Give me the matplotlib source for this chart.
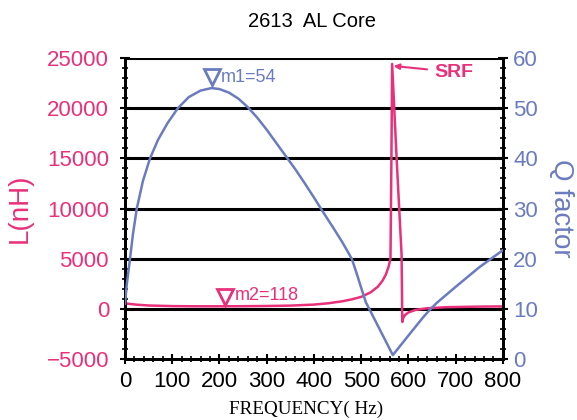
import matplotlib
matplotlib.use("Agg")
import matplotlib.pyplot as plt
from matplotlib.ticker import MultipleLocator

PINK = "#E8317A"
BLUE = "#6B7BBF"

# Inductance curve L(nH) vs frequency (Hz)
freq_L = [0, 25, 50, 100, 150, 200, 250, 300, 350, 400, 430, 460, 480, 500, 520,
          535, 545, 552, 558, 562, 564, 565.5, 575, 585.5, 587, 589, 593, 600,
          615, 640, 680, 750, 800]
L_nH = [550, 420, 340, 280, 260, 260, 270, 290, 330, 430, 560, 760, 950, 1200, 1650,
        2200, 2800, 3400, 4200, 5000, 15000, 24400, 15000, 5400, -1300, -900, -600, -350,
        -100, 70, 170, 230, 250]

# Q factor curve vs frequency (Hz)
freq_Q = [0, 4, 10, 17, 25, 38, 53, 70, 90, 112, 135, 160, 183, 200, 220, 240, 260,
          280, 300, 320, 340, 360, 380, 400, 420, 440, 460, 480, 490, 500, 510,
          567, 600, 630, 645, 660, 700, 750, 800]
Q = [11, 15, 19.5, 25, 30, 35.5, 40, 43.7, 47, 50, 52.2, 53.5, 54, 53.8, 53.1, 51.9, 50.2,
     48.1, 45.7, 43.1, 40.5, 37.9, 35.1, 32.2, 29.2, 26.3, 23.3, 20, 17.2, 14.2, 11.3,
     0.8, 4.7, 8.2, 9.8, 11.2, 14.4, 18.3, 21.7]

m1_freq, m1_Q, m1_label = 184, 54, "m1=54"
m2_freq, m2_L, m2_label = 211.5, 260, "m2=118"
srf_freq, srf_L = 565.5, 24400

L_ticks = [-5000, 0, 5000, 10000, 15000, 20000, 25000]
Q_ticks = [0, 10, 20, 30, 40, 50, 60]
f_ticks = [0, 100, 200, 300, 400, 500, 600, 700, 800]

plt.rcParams['font.family'] = ['Liberation Sans', 'DejaVu Sans']

fig = plt.figure(figsize=(5.77, 4.20), dpi=100)
ax = fig.add_axes([0.2166, 0.145, 0.655, 0.717])
ax2 = ax.twinx()

ax.set_xlim(0, 800)
ax.set_ylim(-5000, 25000)
ax2.set_ylim(0, 60)

# grid lines
for v in L_ticks[1:]:
    ax.axhline(v, color="black", lw=2.2, zorder=1)

ax.plot(freq_L, L_nH, color=PINK, lw=1.8, zorder=4)
ax2.plot(freq_Q, Q, color=BLUE, lw=1.8, zorder=3)

# markers
ax2.plot([m1_freq], [m1_Q + 2.3], marker="v", ms=11, mfc="white", mec=BLUE, mew=2, ls="none")
ax2.text(m1_freq + 19, m1_Q + 2.1, m1_label, color=BLUE, fontsize=13, va="center", ha="left")
ax.plot([m2_freq], [m2_L + 950], marker="v", ms=11, mfc="white", mec=PINK, mew=2, ls="none", zorder=5)
ax.text(m2_freq + 20, m2_L + 1100, m2_label, color=PINK, fontsize=13, va="center", ha="left")

ax.annotate("SRF", xy=(srf_freq + 3, srf_L - 200), xytext=(654, srf_L - 800),
            color=PINK, fontsize=14, fontweight="bold", va="center", ha="left",
            arrowprops=dict(arrowstyle="-|>", color=PINK, lw=1.5, shrinkA=3, shrinkB=0,
                            mutation_scale=8))

ax.set_yticks(L_ticks)
ax.yaxis.set_minor_locator(MultipleLocator(1000))
ax.set_xticks(f_ticks)
ax.xaxis.set_minor_locator(MultipleLocator(20))
ax2.set_yticks(Q_ticks)
ax2.yaxis.set_minor_locator(MultipleLocator(2))

ax.tick_params(axis="y", which="major", colors=PINK, labelsize=16, direction="inout", length=7, width=1.5, pad=8)
ax.tick_params(axis="y", which="minor", direction="inout", length=4, width=1.2)
ax.tick_params(axis="x", which="major", labelsize=16, direction="inout", length=7, width=1.5, labelcolor="black", pad=5)
ax.tick_params(axis="x", which="minor", direction="inout", length=4, width=1.2)
ax.tick_params(axis="y", which="both", color="black")
ax2.tick_params(axis="y", which="major", labelcolor=BLUE, labelsize=16, direction="inout", length=7, width=1.5, color="black", pad=4)
ax2.tick_params(axis="y", which="minor", direction="inout", length=4, width=1.2, color="black")

for a in (ax, ax2):
    for s in a.spines.values():
        s.set_linewidth(2)
        s.set_color("black")
    a.spines["top"].set_visible(False)

ax.set_ylabel("L(nH)", color=PINK, fontsize=20)
ax.yaxis.set_label_coords((33 - 125) / 378, 0.5)
ax2.set_ylabel("Q factor", color=BLUE, fontsize=20, rotation=270)
ax2.yaxis.set_label_coords((574 - 125) / 378, 0.5)
fig.text(306 / 577, 2 / 420, "FREQUENCY( Hz)", fontsize=13.8, family=["Liberation Serif"],
         ha="center", va="bottom")
fig.suptitle("2613  AL Core", fontsize=14.5, x=0.54, y=1 - 12 / 420)

fig.savefig("out.png", dpi=100)
